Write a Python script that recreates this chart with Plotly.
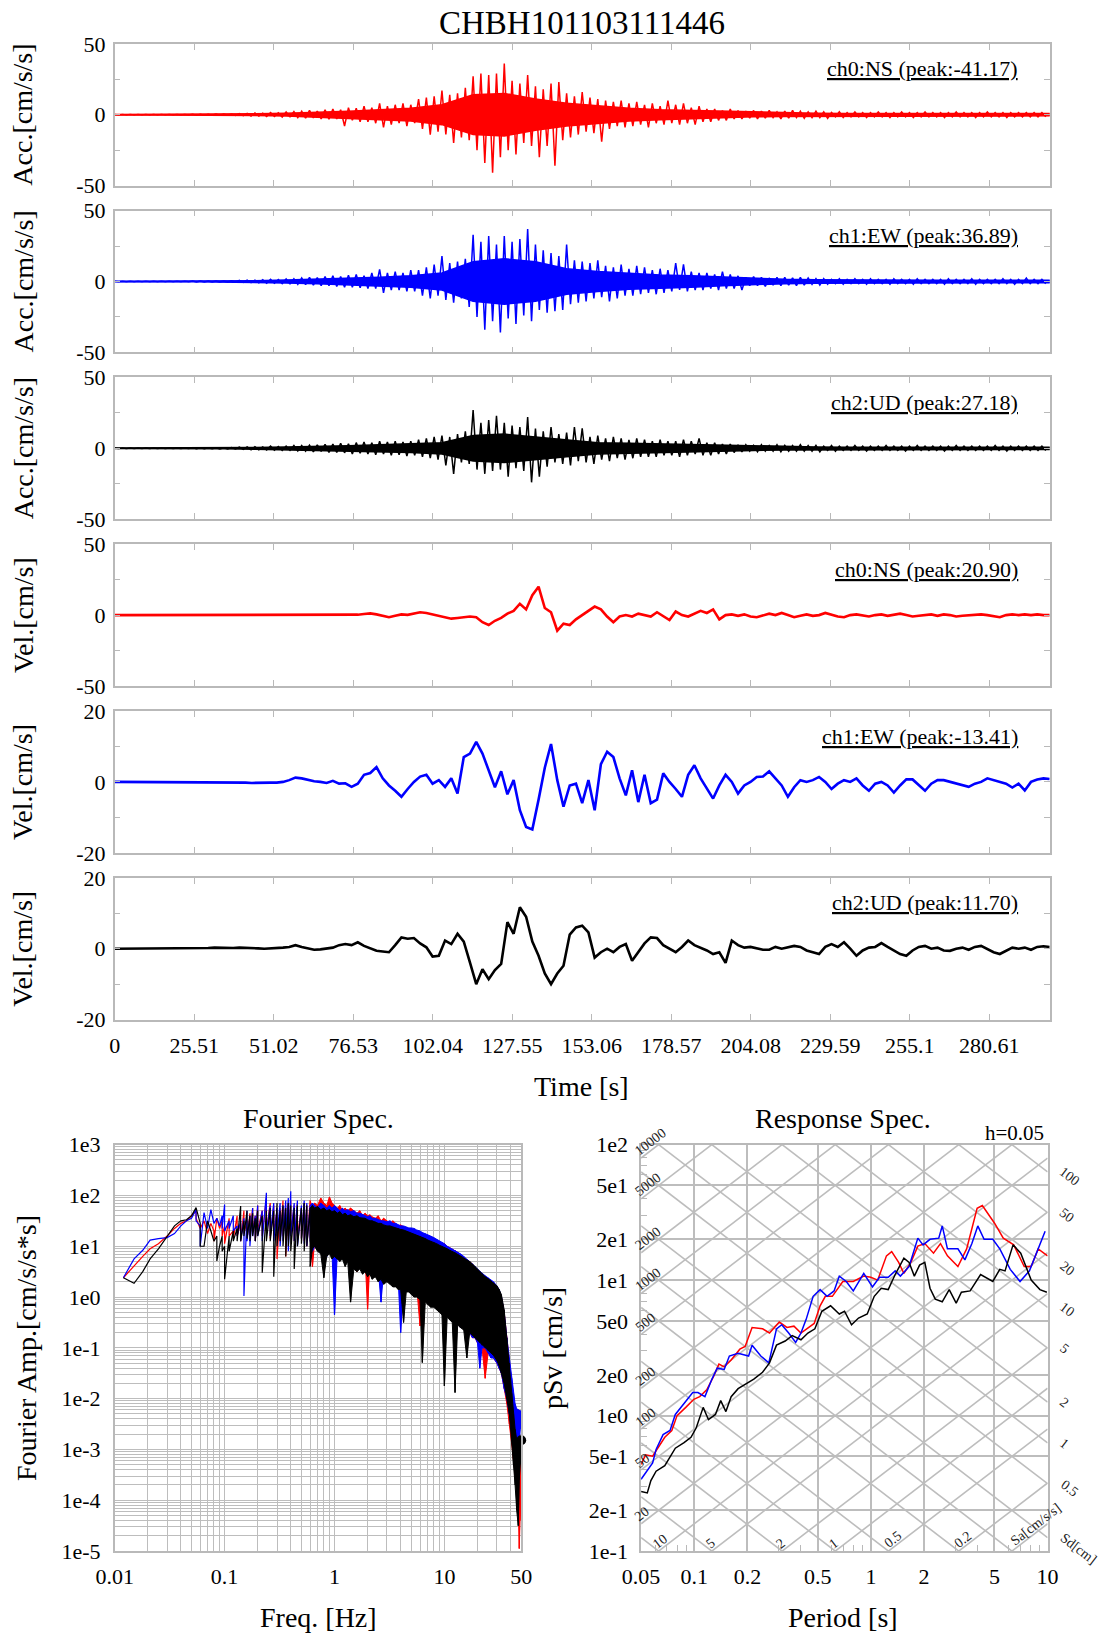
import math
import plotly.graph_objects as go

W, H = 1107, 1634
SERIF = "Liberation Serif, Times New Roman, serif"
FRAME = "#b9b9b9"
GRID = "#bdbdbd"
RED, BLUE, BLACK = "#ff0000", "#0000ff", "#000000"

# ---------------- data ----------------
title_text = "CHBH101103111446"
channel_names = ["ch0:NS", "ch1:EW", "ch2:UD"]
acc_peaks = [-41.17, 36.89, 27.18]
vel_peaks = [20.90, -13.41, 11.70]

time_ticks = [0, 25.51, 51.02, 76.53, 102.04, 127.55, 153.06, 178.57, 204.08, 229.59, 255.1, 280.61]
time_tick_labels = ["0", "25.51", "51.02", "76.53", "102.04", "127.55", "153.06",
                    "178.57", "204.08", "229.59", "255.1", "280.61"]
TIME_MAX = 300.0
ACC_BIN = 2.5    # s, width of one peak bin of the acceleration records
CORE_BIN = 10.0  # s, width of one bin of the dense-band half width
VEL_STEP = 2.0   # s, sampling of the read-off velocity records

# acceleration: upper / lower peak in each 2.5 s bin [cm/s/s]
acc_ns_hi = [0.2, 0.2, 0.2, 0.2, 0.2, 0.2, 0.2, 0.2, 0.2, 0.2, 0.3, 0.3, 0.3, 0.4, 0.4, 0.5,
             0.8, 1.0, 1.2, 1.0, 1.5, 1.3, 2.0, 2.2, 2.5, 3.0, 2.6, 3.5,
             4.0, 3.5, 5.0, 4.5, 6.0, 5.0, 8.0, 6.0, 7.0, 8.0, 7.0, 11,
             12, 13, 17, 14, 15, 19, 27, 29, 28, 29, 36, 24,
             22, 28, 20, 18, 22, 23, 15, 13, 16, 12, 11, 10,
             9, 10, 8, 9, 7, 8, 6, 10, 7, 8, 5, 6,
             4, 4, 3, 4, 3, 2.5, 3, 2.5, 3, 2, 2.5, 3,
             2.5, 2, 2.5, 2, 1.5, 2, 1.5, 2, 1.5, 1.5, 2, 1.5,
             1.5, 2, 1.5, 1.5, 2, 1.5, 1.5, 1.5, 2, 1.5, 1.5, 1.5,
             2, 1.5, 1.5, 1.5, 1.5, 1.5, 1.5, 1.5]
acc_ns_lo = [-0.2, -0.2, -0.2, -0.2, -0.2, -0.2, -0.2, -0.2, -0.2, -0.2, -0.3, -0.3, -0.3, -0.4, -0.4, -0.5,
             -0.6, -1.0, -1.0, -1.3, -1.2, -1.6, -1.5, -2.0, -2.4, -2.2, -3.0, -3.2,
             -3.0, -8.0, -4.0, -5.0, -5.0, -6.0, -9.0, -7.0, -6.0, -8.0, -6.0, -10,
             -14, -12, -14, -20, -16, -18, -25, -34, -41, -30, -25, -28,
             -20, -22, -30, -22, -36, -18, -16, -14, -12, -13, -19, -10,
             -8, -9, -8, -7, -9, -6, -7, -6, -7, -6, -7, -5,
             -5, -4, -4, -3, -3, -2.5, -3, -2.5, -2, -3, -2.5, -2,
             -2.5, -2, -2, -2.5, -1.5, -2, -1.5, -1.5, -2, -1.5, -1.5, -2,
             -1.5, -1.5, -2, -1.5, -1.5, -1.5, -2, -1.5, -1.5, -1.5, -2, -1.5,
             -1.5, -1.5, -2, -1.5, -1.5, -1.5, -1.5, -1.5]
acc_ew_hi = [0.2, 0.2, 0.2, 0.2, 0.2, 0.2, 0.2, 0.2, 0.2, 0.2, 0.3, 0.3, 0.3, 0.4, 0.4, 0.5,
             0.8, 1.0, 1.0, 1.2, 1.5, 1.4, 1.8, 2.0, 2.5, 3.0, 2.8, 3.5,
             4.0, 3.5, 4.5, 5.0, 4.0, 6.0, 8.5, 6.0, 7.0, 6.0, 8.0, 8.0,
             10, 12, 18, 13, 14, 16, 33, 28, 32, 26, 32, 28,
             30, 37, 26, 22, 20, 18, 26, 15, 14, 13, 15, 11,
             10, 12, 9, 11, 10, 8, 9, 8, 13, 12, 7, 6,
             6, 5, 7, 5, 4, 3, 3.5, 3, 2.5, 3, 3, 2.5,
             3, 2.5, 2, 2, 1.5, 2, 1.5, 2, 1.5, 2, 1.5, 1.5,
             2, 1.5, 1.5, 2, 1.5, 1.5, 1.5, 2, 1.5, 1.5, 2, 1.5,
             1.5, 1.5, 2, 1.5, 1.5, 2.5, 1.5, 1.5]
acc_ew_lo = [-0.2, -0.2, -0.2, -0.2, -0.2, -0.2, -0.2, -0.2, -0.2, -0.2, -0.3, -0.3, -0.3, -0.4, -0.4, -0.5,
             -0.7, -0.8, -1.0, -1.2, -1.2, -1.5, -1.6, -2.0, -2.2, -2.6, -3.0, -3.0,
             -3.5, -4.0, -4.0, -4.5, -5.0, -5.0, -8.0, -6.0, -6.0, -7.0, -7.0, -10,
             -12, -10, -13, -15, -12, -18, -25, -34, -28, -36, -26, -30,
             -24, -28, -20, -22, -21, -20, -16, -15, -14, -12, -11, -14,
             -12, -10, -10, -9, -8, -9, -8, -7, -6, -7, -6, -6,
             -5, -6, -5, -5, -6, -3, -3, -3.5, -2.5, -3, -2.5, -3,
             -2.5, -2, -2.5, -2, -1.5, -2, -1.5, -1.5, -2, -1.5, -1.5, -2,
             -1.5, -1.5, -2, -1.5, -1.5, -1.5, -2, -1.5, -1.5, -1.5, -2, -1.5,
             -1.5, -1.5, -1.5, -2, -1.5, -1.5, -1.5, -1.5]
acc_ud_hi = [0.2, 0.2, 0.2, 0.2, 0.2, 0.2, 0.2, 0.2, 0.2, 0.2, 0.3, 0.3, 0.3, 0.4, 0.4, 0.5,
             0.8, 1.0, 1.2, 1.0, 1.5, 1.3, 1.6, 2.0, 2.0, 2.2, 2.5, 2.8,
             3.0, 3.5, 3.2, 4.0, 4.5, 4.0, 5.0, 4.5, 5.0, 4.5, 5.0, 6.0,
             7, 8, 9, 8, 10, 12, 27, 18, 20, 23, 18, 16,
             15, 22, 14, 12, 15, 10, 11, 15, 14, 8, 9, 7,
             8, 7, 6, 7, 6, 5, 6, 5, 5, 6, 5, 7,
             4, 4, 3, 3, 2.5, 2.5, 2, 2.5, 2, 2.5, 2, 2,
             2.5, 2, 2, 1.5, 2, 1.5, 1.5, 2, 1.5, 1.5, 1.5, 2,
             1.5, 1.5, 1.5, 2, 1.5, 1.5, 1.5, 1.5, 2, 1.5, 1.5, 1.5,
             1.5, 2, 1.5, 1.5, 1.5, 1.5, 1.5, 1.5]
acc_ud_lo = [-0.2, -0.2, -0.2, -0.2, -0.2, -0.2, -0.2, -0.2, -0.2, -0.2, -0.3, -0.3, -0.3, -0.4, -0.4, -0.5,
             -0.8, -1.0, -1.0, -1.2, -1.3, -1.5, -1.5, -1.8, -2.0, -2.5, -2.2, -3.0,
             -3.0, -3.2, -4.0, -3.5, -4.0, -4.5, -4.0, -5.0, -4.5, -5.5, -5.0, -6.0,
             -7, -8, -12, -18, -10, -11, -15, -18, -16, -15, -20, -14,
             -16, -24, -20, -13, -10, -11, -12, -9, -10, -11, -8, -9,
             -7, -8, -7, -6, -6, -6, -5, -5, -6, -5, -4, -5,
             -5, -4, -4, -3, -2.5, -2, -2.5, -2, -2, -2.5, -2, -2,
             -2, -2, -2.5, -1.5, -2, -1.5, -1.5, -1.5, -2, -1.5, -1.5, -1.5,
             -1.5, -2, -1.5, -1.5, -1.5, -1.5, -2, -1.5, -1.5, -1.5, -1.5, -1.5,
             -1.5, -1.5, -2, -1.5, -1.5, -1.5, -1.5, -1.5]
# half width of the solid (densely overdrawn) part of each record, per 10 s bin [cm/s/s]
acc_ns_core = [0.2, 0.2, 0.2, 0.3, 0.6, 1.0, 1.5, 2.5, 3.5, 4.5,
               7, 14, 15, 11, 8, 6, 4.5, 3.5, 3, 2,
               1.5, 1.2, 1.0, 0.8, 0.8, 0.8, 0.8, 0.8, 0.8, 0.8]
acc_ew_core = [0.2, 0.2, 0.2, 0.3, 0.6, 1.0, 1.5, 2.2, 3, 4,
               6, 14, 16, 14, 9, 7, 5.5, 4.5, 4, 3,
               2, 1.5, 1.2, 1.0, 0.9, 0.8, 0.8, 0.8, 0.8, 0.8]
acc_ud_core = [0.2, 0.2, 0.2, 0.4, 0.6, 1.0, 1.3, 1.8, 2.5, 3,
               4, 9, 10, 8, 6, 4, 3.5, 3, 2.5, 2,
               1.5, 1.2, 1.0, 0.8, 0.8, 0.8, 0.8, 0.8, 0.8, 0.8]

# velocity, one value every 2 s from 0 to 300 s [cm/s]
vel_ns = [0] * 36 + [
    0.3, 0.2, 0.5, 0.3, 0.8, 1.2, 0.5, -0.5, -1.5, -0.5,
    0.5, 0.2, 1.0, 2.0, 1.5, 0.5, -0.5, -1.5, -2.5, -2.0,
    -1.5, -1.0, -1.5, -5.0, -7.0, -4.0, -2.0, 1.0, 3.0, 8.0,
    4.0, 14, 20, 5, 2, -11, -6, -7, -3, 0,
    3, 6, 4, -1, -5, -1, 0, -1, 1, 0,
    -1, 2, -0.5, -3.5, 2.5, 0, -1, 1, 3, 1.5,
    4, -3, 0, 0.5, -0.5,
    0.5, -1, -1.5, 0, 1, 0, 1.5, 0, -1.5, -0.5,
    0.5, -0.5, 0, 1.5, 0, -1, -1.5, 0, 0.5, 0,
    -1, 0, 0.5, -0.5, 0, 1, 0, -1, -0.5, 0,
    0.5, -0.5, 0.5, 0, -1, -0.5, 0, 0.5, 0.5, 0,
    -0.5, -1.5, 0, 0.5, 0, 0.5, 0, 0.5, 0, 0]
vel_ew = [0] * 17 + [
    -0.2, -0.2, -0.2, 0, -0.2, -0.3, -0.2, -0.3, -0.2, -0.2,
    0, 0.5, 1.2, 1.0, 0.5, 0.2, 0, -0.3, 0.3, -0.5,
    -0.4, -1.4, -0.5, 2, 2.5, 4.2, 1, -1, -2.5, -4.2,
    -2, 0, 1.5, 2, -0.5, 0.5, -1.4, 1, -3.3, 7,
    8, 11.3, 8, 3, -1.5, 3, -3.5, 0.5, -8, -12.7,
    -13.4, -5, 4, 10.7, 0.5, -7, -1, -0.5, -6, 0.5,
    -8, 5, 8.5, 7, 1, -3.8, 3.3, -5.7, 2, -6,
    -5, 2.4, 0, -2, -4.2, 2, 4.7, 1, -2, -4.7,
    -1, 2, 0, -3.3, -1, 0, 1.4, 1.5, 3, 1,
    -1, -4.2, -1.5, 0.5, 0, 0.5, 1.4, 0, -2, -0.5,
    0.5, 0, 1, -1, -2.5, -0.5, 0, -1, -3, -1,
    0.7, 0.7, -1, -2.5, -0.5, 0.5, 0.5, 0, -0.5, -1,
    -1.4, -0.5, 0, 1, 0.5, 0, -0.5, -1.6, -0.5, -2.4,
    0, 0.7, 1, 0.8]
vel_ud = [0] * 15 + [
    0.2, 0.3, 0.2, 0.3, 0.2, 0.3, 0.3, 0.2, 0.1, 0,
    0.1, 0, 0.3, 0.5, 1, 0.5, 0, -0.3, -0.2, 0,
    0.3, 1, 1.3, 1, 1.8, 0.8, 0, -0.6, -0.8, -1,
    1, 3.2, 2.8, 3, 1.5, 0.4, -2.2, -2, 2.3, 1.3,
    4.2, 2, -3.9, -10, -5.8, -8.6, -6, -4.3, 7.5, 4.2,
    11.7, 9, 2, -2, -7, -10, -7, -4.8, 4, 6,
    6.5, 4.6, -2.5, -1, 0, -1, 0.5, 1.3, -3.4, -1,
    1.5, 3.2, 3, 1, 0, -1, 0.5, 2.3, 1, 0.3,
    -0.5, -1.5, -1, -4, 2.3, 1, 0.3, 0.5, 0, -0.3,
    -0.3, 0.5, 0, 0.3, 0.8, 0.5, -0.5, -1, -1.5, 0.5,
    1.3, 0.5, 1.8, 0, -2, -0.5, 0.3, 0.5, 1.6, 0.5,
    -0.5, -1.5, -2, -0.5, 0.5, 0.8, 0, 0.3, -0.5, -0.6,
    0, 0.3, -0.3, 0.5, 0.8, 0, -1, -1.5, -0.5, 0.3,
    0, 0.3, -0.3, 0.5, 0.7, 0.5]

# Fourier spectra: frequency nodes [Hz]; log10 of upper / lower amplitude at each node
fourier_freq = [0.012, 0.015, 0.018, 0.021, 0.025, 0.03, 0.035, 0.04, 0.045, 0.05,
                0.055, 0.06, 0.065, 0.07, 0.075, 0.08, 0.085, 0.09, 0.095, 0.1,
                0.11, 0.12, 0.13, 0.14, 0.15, 0.16, 0.17, 0.18, 0.19, 0.2,
                0.22, 0.24, 0.26, 0.28, 0.3, 0.32, 0.34, 0.36, 0.38, 0.4,
                0.43, 0.46, 0.5, 0.53, 0.56, 0.6, 0.63, 0.66, 0.7, 0.75,
                0.8, 0.85, 0.9, 0.95, 1.0, 1.06, 1.12, 1.18, 1.25, 1.32,
                1.4, 1.5, 1.6, 1.7, 1.8, 1.9, 2.0, 2.1, 2.2, 2.35,
                2.5, 2.65, 2.8, 3.0, 3.2, 3.4, 3.6, 3.8, 4.0, 4.25,
                4.5, 4.75, 5.0, 5.3, 5.6, 6.0, 6.3, 6.7, 7.1, 7.5,
                8.0, 8.5, 9.0, 9.5, 10, 10.6, 11.2, 11.8, 12.5, 13.2,
                14, 15, 16, 17, 18, 19, 20, 21, 22, 23.5,
                25, 26.5, 28, 30, 31.5, 33, 35, 37, 39, 41,
                42.5, 44, 45.5, 47, 48, 49, 50]
FOURIER_SOLID_FROM = 0.6  # Hz: above this the drawn spectrum is a solid band
fs_ns_hi = [0.38, 0.62, 0.80, 0.95, 1.05, 1.20, 1.35, 1.45, 1.50, 1.60,
            1.70, 1.35, 1.50, 1.25, 1.45, 1.30, 1.55, 1.35, 1.50, 1.40,
            1.55, 1.30, 1.60, 1.45, 1.70, 1.50, 1.65, 1.75, 1.60, 1.80,
            1.70, 1.95, 1.85, 1.80, 1.70, 1.75, 1.90, 1.80, 1.85, 1.90,
            1.80, 1.85, 1.75, 1.85, 1.80, 1.90, 1.75, 1.85, 1.80, 1.95,
            1.85, 1.80, 1.97, 1.85, 1.80, 1.75, 1.80, 1.70, 1.75, 1.70,
            1.75, 1.70, 1.65, 1.70, 1.60, 1.65, 1.60, 1.62, 1.58, 1.55,
            1.60, 1.50, 1.55, 1.50, 1.45, 1.50, 1.45, 1.40, 1.42, 1.38,
            1.35, 1.35, 1.30, 1.28, 1.25, 1.22, 1.20, 1.18, 1.15, 1.12,
            1.10, 1.08, 1.05, 1.05, 1.05, 1.00, 0.97, 0.94, 0.92, 0.88,
            0.83, 0.78, 0.74, 0.70, 0.65, 0.58, 0.53, 0.48, 0.45, 0.40,
            0.35, 0.30, 0.27, 0.20, 0.12, 0.00, -0.30, -0.80, -1.30, -1.80,
            -2.10, -2.40, -2.70, -2.90, -3.00, -3.10, -3.20]
fs_ns_lo = [0.38, 0.62, 0.80, 0.95, 1.05, 1.20, 1.35, 1.45, 1.50, 1.60,
            1.55, 1.35, 1.50, 1.25, 1.45, 1.10, 1.55, 1.35, 1.20, 1.05,
            1.20, 1.15, 1.20, 1.10, 1.25, 1.15, 1.20, 1.30, 1.10, 1.30,
            1.20, 1.30, 1.15, 1.25, 0.75, 1.10, 1.20, 0.80, 1.20, 1.25,
            1.10, 1.20, 1.15, 1.10, 1.00, 1.15, 0.60, 1.10, 1.05, 1.00,
            1.10, 0.90, 1.00, 0.95, 0.90, 0.85, 0.80, 0.85, 0.80, 0.70,
            0.80, 0.75, 0.50, 0.75, 0.70, 0.75, -0.24, 0.70, 0.65, 0.60,
            0.65, 0.50, 0.55, 0.50, 0.45, 0.40, 0.40, 0.35, 0.30, 0.35,
            0.30, 0.25, 0.25, 0.20, 0.20, -0.57, 0.10, 0.10, 0.00, 0.00,
            -0.10, -0.10, -0.20, -0.20, -0.30, -0.30, -0.40, -0.40, -0.50, -0.50,
            -0.60, -0.60, -0.70, -0.70, -0.80, -0.80, -0.90, -0.90, -1.00, -1.60,
            -1.10, -1.15, -1.20, -1.30, -1.40, -1.50, -1.80, -2.10, -2.50, -2.90,
            -3.20, -3.50, -3.70, -4.00, -4.95, -4.40, -3.50]
fs_ew_hi = [0.38, 0.75, 0.92, 1.12, 1.15, 1.17, 1.25, 1.40, 1.50, 1.55,
            1.72, 1.40, 1.66, 1.35, 1.72, 1.45, 1.55, 1.40, 1.60, 1.82,
            1.50, 1.60, 1.40, 1.50, 1.55, 1.70, 1.60, 1.75, 1.60, 1.80,
            1.70, 2.05, 1.80, 1.85, 1.75, 1.85, 1.80, 1.90, 1.95, 2.08,
            1.85, 1.90, 1.80, 1.90, 1.85, 1.80, 1.85, 1.80, 1.75, 1.85,
            1.80, 1.75, 1.80, 1.75, 1.80, 1.75, 1.70, 1.75, 1.70, 1.72,
            1.68, 1.70, 1.65, 1.65, 1.62, 1.60, 1.58, 1.60, 1.55, 1.55,
            1.52, 1.50, 1.50, 1.48, 1.50, 1.45, 1.45, 1.42, 1.40, 1.40,
            1.38, 1.36, 1.36, 1.35, 1.32, 1.30, 1.27, 1.25, 1.22, 1.20,
            1.17, 1.14, 1.10, 1.07, 1.05, 1.00, 0.97, 0.95, 0.92, 0.88,
            0.85, 0.80, 0.75, 0.70, 0.66, 0.60, 0.55, 0.50, 0.47, 0.42,
            0.38, 0.33, 0.30, 0.22, 0.15, 0.02, -0.30, -0.80, -1.20, -1.60,
            -1.90, -2.10, -2.20, -2.22, -2.24, -2.24, -2.24]
fs_ew_lo = [0.38, 0.75, 0.92, 1.12, 1.15, 1.17, 1.25, 1.40, 1.50, 1.55,
            1.50, 1.00, 1.66, 1.35, 1.72, 1.45, 1.55, 1.40, 1.35, 1.30,
            1.35, 1.30, 1.20, 1.10, 0.02, 1.10, 1.00, 1.20, 1.10, 1.20,
            1.10, 1.30, 1.20, 1.10, 1.20, 1.00, 1.10, 1.20, 0.90, 1.20,
            1.10, 1.00, 1.15, 1.05, 1.00, 1.10, 0.90, 1.00, 0.95, 1.00,
            0.90, 0.80, 0.90, 0.85, -0.35, 0.85, 0.80, 0.80, 0.75, 0.70,
            0.75, 0.70, 0.65, 0.70, 0.60, 0.65, 0.60, 0.55, 0.60, 0.50,
            0.55, -0.10, 0.50, 0.45, 0.40, 0.40, 0.35, 0.35, -0.70, 0.30,
            0.30, 0.25, 0.25, 0.20, 0.15, 0.15, 0.10, 0.10, 0.00, 0.00,
            -0.10, -0.10, -0.20, -0.20, -0.30, -0.30, -0.40, -0.40, -0.50, -0.50,
            -0.60, -0.60, -0.70, -0.70, -0.80, -0.80, -0.90, -1.40, -1.00, -1.00,
            -1.10, -1.20, -1.20, -1.30, -1.40, -1.50, -1.80, -2.00, -2.30, -2.60,
            -2.90, -3.10, -3.20, -3.00, -2.90, -2.60, -2.40]
fs_ud_hi = [0.38, 0.27, 0.50, 0.75, 0.95, 1.20, 1.40, 1.50, 1.52, 1.60,
            1.76, 1.45, 1.00, 1.50, 1.30, 1.10, 1.20, 1.00, 1.20, 1.00,
            1.20, 1.30, 1.35, 1.79, 1.50, 1.70, 1.60, 1.65, 1.55, 1.70,
            1.60, 1.70, 1.75, 1.70, 1.85, 1.70, 1.80, 1.75, 1.85, 1.80,
            1.75, 1.80, 1.75, 1.85, 1.80, 1.75, 1.80, 1.75, 1.78, 1.72,
            1.75, 1.70, 1.72, 1.68, 1.70, 1.65, 1.68, 1.62, 1.65, 1.60,
            1.62, 1.58, 1.60, 1.56, 1.55, 1.55, 1.52, 1.50, 1.50, 1.48,
            1.45, 1.45, 1.42, 1.40, 1.40, 1.38, 1.36, 1.35, 1.33, 1.32,
            1.30, 1.28, 1.26, 1.24, 1.22, 1.20, 1.18, 1.15, 1.12, 1.10,
            1.08, 1.05, 1.02, 1.00, 0.98, 0.95, 0.92, 0.90, 0.87, 0.84,
            0.80, 0.77, 0.73, 0.70, 0.65, 0.60, 0.55, 0.50, 0.45, 0.40,
            0.36, 0.32, 0.28, 0.22, 0.15, 0.05, -0.25, -0.80, -1.30, -1.90,
            -2.30, -2.60, -2.80, -2.85, -2.85, -2.85, -2.82]
fs_ud_lo = [0.38, 0.27, 0.50, 0.75, 0.95, 1.20, 1.40, 1.50, 1.52, 1.60,
            1.76, 1.00, 1.00, 1.50, 1.30, 1.10, 0.71, 1.00, 0.90, 0.35,
            0.90, 1.10, 1.10, 1.10, 1.20, 1.15, 1.10, 1.20, 1.10, 1.20,
            0.48, 1.10, 1.10, 0.40, 1.00, 1.10, 1.00, 0.80, 1.00, 0.90,
            0.55, 1.00, 1.05, 0.90, 1.00, 0.60, 0.95, 1.00, 0.90, 0.85,
            0.38, 0.80, 0.85, 0.75, 0.80, 0.75, 0.70, 0.75, 0.60, 0.70,
            -0.10, 0.55, 0.50, 0.55, 0.45, 0.50, 0.40, 0.45, 0.35, 0.40,
            0.30, 0.35, 0.25, 0.30, 0.25, 0.20, 0.20, 0.15, 0.15, -0.50,
            0.10, 0.10, 0.05, 0.00, 0.00, -0.05, -1.29, -0.10, -0.15, -0.20,
            -0.20, -0.25, -0.30, -0.35, -1.75, -0.40, -0.45, -0.50, -1.88, -0.55,
            -0.60, -0.65, -1.20, -0.70, -0.75, -0.80, -0.85, -0.90, -0.95, -1.00,
            -1.05, -1.10, -1.15, -1.25, -1.35, -1.50, -1.70, -2.00, -2.30, -2.80,
            -3.30, -3.70, -4.20, -4.50, -3.60, -3.30, -3.00]

# response spectra (h=0.05): period [s] and pSv [cm/s]
damping = 0.05
rs_period_ns = [0.05, 0.053, 0.0581, 0.0608, 0.0681, 0.0746, 0.0799, 0.0895, 0.0994, 0.1073,
                0.1176, 0.1288, 0.1379, 0.1477, 0.1617, 0.1811, 0.194, 0.2124, 0.2435, 0.2666,
                0.3028, 0.3346, 0.3666, 0.4016, 0.4398, 0.4773, 0.5155, 0.5519, 0.6045, 0.6472,
                0.6929, 0.7945, 0.9106, 0.9974, 1.0925, 1.2242, 1.3106, 1.4352, 1.5365, 1.6825,
                1.8427, 2.0182, 2.2604, 2.4757, 2.7109, 3.1071, 3.4815, 3.9904, 4.2722, 5.0092,
                5.6128, 6.4313, 7.3733, 8.075, 8.8432, 10.0]
rs_psv_ns = [0.437, 0.513, 0.501, 0.55, 0.692, 0.776, 1.0, 1.15, 1.32, 1.38,
             1.55, 1.95, 2.40, 2.29, 2.57, 3.09, 3.24, 4.47, 4.37, 4.07,
             4.90, 4.47, 4.57, 4.07, 4.47, 4.79, 6.46, 7.59, 7.59, 8.71,
             9.77, 9.77, 10.7, 10.5, 10.0, 15.1, 16.2, 13.5, 11.2, 13.5,
             17.8, 18.6, 15.8, 18.6, 15.1, 12.6, 17.0, 33.9, 35.5, 26.3,
             20.4, 18.2, 12.6, 12.6, 17.0, 15.1]
rs_period_ew = [0.05, 0.0542, 0.0581, 0.0608, 0.0666, 0.0729, 0.0781, 0.0875, 0.098, 0.1049,
                0.1149, 0.1259, 0.1348, 0.1477, 0.158, 0.1771, 0.203, 0.2124, 0.238, 0.2642,
                0.292, 0.3125, 0.3423, 0.375, 0.4016, 0.4299, 0.4708, 0.5155, 0.5646, 0.6184,
                0.6621, 0.7253, 0.7945, 0.9106, 1.0204, 1.1177, 1.2524, 1.3715, 1.4683, 1.6445,
                1.8427, 1.9727, 2.16, 2.42, 2.5328, 2.7109, 3.1071, 3.4031, 3.7274, 4.0266,
                4.3706, 4.896, 5.3627, 6.1468, 6.9823, 7.8931, 8.8432, 9.6826]
rs_psv_ew = [0.339, 0.389, 0.447, 0.562, 0.724, 0.776, 1.02, 1.23, 1.48, 1.48,
             1.38, 1.86, 2.24, 2.19, 2.75, 2.88, 2.75, 3.31, 2.75, 2.45,
             4.37, 4.68, 4.07, 3.47, 4.07, 5.13, 7.59, 8.51, 7.59, 8.32,
             10.7, 9.77, 8.32, 11.2, 8.91, 10.5, 10.5, 11.7, 10.7, 12.6,
             20.4, 18.2, 20.0, 20.4, 25.1, 17.0, 17.0, 14.1, 18.6, 25.1,
             20.0, 20.0, 17.0, 12.0, 9.77, 11.7, 17.0, 22.9]
rs_period_ud = [0.05, 0.0542, 0.0568, 0.0608, 0.0681, 0.0781, 0.0875, 0.0958, 0.1026, 0.1123,
                0.1203, 0.1318, 0.1411, 0.151, 0.1617, 0.1771, 0.194, 0.2173, 0.2435, 0.2666,
                0.292, 0.327, 0.3583, 0.4016, 0.4398, 0.4816, 0.5273, 0.5909, 0.6621, 0.7089,
                0.7766, 0.8506, 0.953, 1.044, 1.1435, 1.2524, 1.3715, 1.5365, 1.6445, 1.7607,
                1.8851, 2.0182, 2.16, 2.3125, 2.5328, 2.7733, 3.037, 3.2515, 3.6433, 4.176,
                4.896, 5.3627, 5.742, 6.3742, 7.0463, 8.075, 9.0467, 9.9057]
rs_psv_ud = [0.275, 0.269, 0.331, 0.389, 0.427, 0.575, 0.631, 0.692, 0.813, 1.15,
             0.933, 1.02, 1.29, 1.07, 1.38, 1.58, 1.70, 1.86, 2.09, 2.45,
             3.31, 3.55, 3.89, 3.63, 4.07, 4.37, 5.89, 6.46, 5.62, 5.89,
             4.68, 5.25, 5.62, 7.59, 8.71, 8.51, 11.0, 14.5, 13.5, 10.7,
             12.9, 13.5, 8.71, 7.24, 6.92, 8.51, 6.76, 8.13, 8.32, 11.0,
             9.77, 12.0, 11.7, 18.2, 15.8, 10.0, 8.51, 8.13]

# tripartite grid values
sa_lines = [0.1, 0.2, 0.5, 1, 2, 5, 10, 20, 50, 100, 200, 500, 1000, 2000, 5000, 10000]
sd_lines = [0.001, 0.002, 0.005, 0.01, 0.02, 0.05, 0.1, 0.2, 0.5, 1, 2, 5, 10, 20, 50, 100]
sa_left_labels = [20, 50, 100, 200, 500, 1000, 2000, 5000, 10000]
sa_bottom_labels = [10, 5, 2, 1, 0.5, 0.2]
sd_right_labels = [100, 50, 20, 10, 5, 2, 1, 0.5]

fourier_ticks = [0.01, 0.1, 1, 10, 50]
fourier_tick_text = ["0.01", "0.1", "1", "10", "50"]
fourier_y_ticks = [1e-5, 1e-4, 1e-3, 1e-2, 1e-1, 1e0, 1e1, 1e2, 1e3]
fourier_y_text = ["1e-5", "1e-4", "1e-3", "1e-2", "1e-1", "1e0", "1e1", "1e2", "1e3"]
rs_x_ticks = [0.05, 0.1, 0.2, 0.5, 1, 2, 5, 10]
rs_x_text = ["0.05", "0.1", "0.2", "0.5", "1", "2", "5", "10"]
rs_y_ticks = [0.1, 0.2, 0.5, 1, 2, 5, 10, 20, 50, 100]
rs_y_text = ["1e-1", "2e-1", "5e-1", "1e0", "2e0", "5e0", "1e1", "2e1", "5e1", "1e2"]

# ---------------- geometry (pixels) ----------------
PX_L, PX_R = 114.7, 1049.7
TOP0, PITCH, PH = 43.8, 166.8, 141.8
FOU = (114.7, 521.2, 1144.6, 1551.1)
RES = (641.1, 1047.6, 1144.6, 1551.1)


def fx(px):
    return px / W


def fy(py):
    return 1 - py / H


def decades(lo, hi):
    out = []
    for e in range(lo, hi + 1):
        for m in range(2, 10):
            out.append(m * 10.0 ** e)
    return out


fig = go.Figure()
layout = dict(width=W, height=H, margin=dict(l=0, r=0, t=0, b=0, autoexpand=False),
              paper_bgcolor="white", plot_bgcolor="white", showlegend=False,
              font=dict(family=SERIF, color="black"))
annotations = []

tick_font = dict(family=SERIF, size=22, color="black")

panels = [
    ("acc", (acc_ns_hi, acc_ns_lo, acc_ns_core), RED, "Acc.[cm/s/s]", 50, channel_names[0], acc_peaks[0]),
    ("acc", (acc_ew_hi, acc_ew_lo, acc_ew_core), BLUE, "Acc.[cm/s/s]", 50, channel_names[1], acc_peaks[1]),
    ("acc", (acc_ud_hi, acc_ud_lo, acc_ud_core), BLACK, "Acc.[cm/s/s]", 50, channel_names[2], acc_peaks[2]),
    ("vel", vel_ns, RED, "Vel.[cm/s]", 50, channel_names[0], vel_peaks[0]),
    ("vel", vel_ew, BLUE, "Vel.[cm/s]", 20, channel_names[1], vel_peaks[1]),
    ("vel", vel_ud, BLACK, "Vel.[cm/s]", 20, channel_names[2], vel_peaks[2]),
]

for i, (kind, data, color, ylab, lim, cname, peak) in enumerate(panels):
    n = i + 1
    top = TOP0 + PITCH * i
    bot = top + PH
    if kind == "acc":
        hi, lo, core = data
        # solid core of the record
        tc = [CORE_BIN * k + CORE_BIN / 2 for k in range(len(core))]
        cx = [0] + tc + [TIME_MAX] + [TIME_MAX] + tc[::-1] + [0]
        cy = [core[0]] + list(core) + [core[-1]] + [-core[-1]] + [-v for v in core[::-1]] + [-core[0]]
        fig.add_trace(go.Scatter(x=cx, y=cy, mode="lines", fill="toself", fillcolor=color,
                                 line=dict(color=color, width=1.5),
                                 xaxis=f"x{n}", yaxis=f"y{n}", hoverinfo="skip"))
        # individual peaks, alternating up / down inside every bin
        xs, ys = [], []
        for k, (a, b) in enumerate(zip(hi, lo)):
            t = ACC_BIN * k
            xs += [t, t + ACC_BIN / 2]
            ys += [a, b]
        fig.add_trace(go.Scatter(x=xs, y=ys, mode="lines", line=dict(color=color, width=1.5),
                                 xaxis=f"x{n}", yaxis=f"y{n}", hoverinfo="skip"))
    else:
        ys = list(data)
        xs = [VEL_STEP * k for k in range(len(ys))]
        fig.add_trace(go.Scatter(x=xs, y=ys, mode="lines", line=dict(color=color, width=2.6),
                                 xaxis=f"x{n}", yaxis=f"y{n}", hoverinfo="skip"))
    key = "" if n == 1 else str(n)
    layout[f"xaxis{key}"] = dict(
        domain=[fx(PX_L), fx(PX_R)], range=[0, TIME_MAX], anchor=f"y{n}", automargin=False,
        tickmode="array", tickvals=time_ticks, ticktext=time_tick_labels,
        showticklabels=(n == 6), tickfont=tick_font, ticklabelstandoff=5,
        ticks="inside", ticklen=6, tickcolor=FRAME, tickwidth=1.2,
        showline=True, linecolor=FRAME, linewidth=1.5, mirror="ticks",
        showgrid=False, zeroline=False)
    layout[f"yaxis{key}"] = dict(
        domain=[fy(bot), fy(top)], range=[-lim, lim], anchor=f"x{n}", automargin=False,
        tickmode="array", tickvals=[-lim, -lim / 2, 0, lim / 2, lim],
        ticktext=[f"{-lim}", "", "0", "", f"{lim}"], tickfont=tick_font, ticklabelstandoff=3,
        ticks="inside", ticklen=6, tickcolor=FRAME, tickwidth=1.2,
        showline=True, linecolor=FRAME, linewidth=1.5, mirror="ticks",
        showgrid=False, zeroline=False)
    annotations.append(dict(text=ylab, x=fx(23), y=fy((top + bot) / 2), xref="paper", yref="paper",
                            textangle=-90, showarrow=False, font=dict(family=SERIF, size=28),
                            xanchor="center", yanchor="middle"))
    annotations.append(dict(text=f"<u>{cname} (peak:{peak:.2f})</u>", x=fx(1019.5), y=fy(top + 25),
                            xref="paper", yref="paper", showarrow=False,
                            font=dict(family=SERIF, size=22), xanchor="right", yanchor="middle"))

# ---------------- Fourier spectrum ----------------
for hi, lo, color in [(fs_ns_hi, fs_ns_lo, RED), (fs_ew_hi, fs_ew_lo, BLUE), (fs_ud_hi, fs_ud_lo, BLACK)]:
    # dense part: solid band between the upper and lower amplitude at each node
    idx = [k for k, f in enumerate(fourier_freq) if f >= FOURIER_SOLID_FROM]
    bx = [fourier_freq[k] for k in idx] + [fourier_freq[k] for k in idx[::-1]]
    by = [10 ** hi[k] for k in idx] + [10 ** lo[k] for k in idx[::-1]]
    fig.add_trace(go.Scatter(x=bx, y=by, mode="lines", fill="toself", fillcolor=color,
                             line=dict(color=color, width=1.0),
                             xaxis="x7", yaxis="y7", hoverinfo="skip"))
    xs, ys = [], []
    for f, a, b in zip(fourier_freq, hi, lo):
        xs += [f, f]
        ys += [10 ** a, 10 ** b]
    fig.add_trace(go.Scatter(x=xs, y=ys, mode="lines", line=dict(color=color, width=1.2),
                             xaxis="x7", yaxis="y7", hoverinfo="skip"))
fig.add_trace(go.Scatter(x=[fourier_freq[-1]], y=[10 ** fs_ud_hi[-1]], mode="markers",
                         marker=dict(color=BLACK, size=10), xaxis="x7", yaxis="y7",
                         hoverinfo="skip", cliponaxis=False))

layout["xaxis7"] = dict(domain=[fx(FOU[0]), fx(FOU[1])], type="log", automargin=False,
                        range=[math.log10(0.01), math.log10(50)], anchor="y7",
                        tickmode="array", tickvals=fourier_ticks, ticktext=fourier_tick_text,
                        tickfont=tick_font, ticks="", ticklabelstandoff=5,
                        showgrid=True, gridcolor=GRID, gridwidth=1.3,
                        minor=dict(tickvals=decades(-2, 0) + [20, 30, 40], showgrid=True,
                                   gridcolor=GRID, gridwidth=1.3, ticks=""),
                        showline=True, linecolor=FRAME, linewidth=1.5, mirror=True, zeroline=False)
layout["yaxis7"] = dict(domain=[fy(FOU[3]), fy(FOU[2])], type="log", range=[-5, 3], anchor="x7",
                        automargin=False,
                        tickmode="array", tickvals=fourier_y_ticks, ticktext=fourier_y_text,
                        tickfont=tick_font, ticks="", ticklabelstandoff=8,
                        showgrid=True, gridcolor=GRID, gridwidth=1.3,
                        minor=dict(tickvals=decades(-5, 2), showgrid=True, gridcolor=GRID,
                                   gridwidth=1.3, ticks=""),
                        showline=True, linecolor=FRAME, linewidth=1.5, mirror=True, zeroline=False)

# ---------------- Response spectrum ----------------
T0, T1 = 0.05, 10.0
for sa in sa_lines:
    fig.add_trace(go.Scatter(x=[T0, T1], y=[sa * T0 / (2 * math.pi), sa * T1 / (2 * math.pi)],
                             mode="lines", line=dict(color=GRID, width=1.6),
                             xaxis="x8", yaxis="y8", hoverinfo="skip"))
for sd in sd_lines:
    fig.add_trace(go.Scatter(x=[T0, T1], y=[2 * math.pi * sd / T0, 2 * math.pi * sd / T1],
                             mode="lines", line=dict(color=GRID, width=1.6),
                             xaxis="x8", yaxis="y8", hoverinfo="skip"))
for per, psv, color in [(rs_period_ns, rs_psv_ns, RED), (rs_period_ew, rs_psv_ew, BLUE),
                        (rs_period_ud, rs_psv_ud, BLACK)]:
    fig.add_trace(go.Scatter(x=per, y=psv, mode="lines", line=dict(color=color, width=1.5),
                             xaxis="x8", yaxis="y8", hoverinfo="skip"))

layout["xaxis8"] = dict(domain=[fx(RES[0]), fx(RES[1])], type="log", automargin=False,
                        range=[math.log10(T0), math.log10(T1)], anchor="y8",
                        tickmode="array", tickvals=rs_x_ticks, ticktext=rs_x_text,
                        tickfont=tick_font, ticks="", ticklabelstandoff=5,
                        showgrid=True, gridcolor=GRID, gridwidth=1.6,
                        minor=dict(tickvals=[0.06, 0.07, 0.08, 0.09, 0.3, 0.4, 0.6, 0.7, 0.8, 0.9,
                                             3, 4, 6, 7, 8, 9],
                                   ticks="inside", ticklen=6, tickcolor=FRAME, showgrid=False),
                        showline=True, linecolor=FRAME, linewidth=1.6, mirror=True, zeroline=False)
layout["yaxis8"] = dict(domain=[fy(RES[3]), fy(RES[2])], type="log", range=[-1, 2], anchor="x8",
                        automargin=False,
                        tickmode="array", tickvals=rs_y_ticks, ticktext=rs_y_text,
                        tickfont=tick_font, ticks="", ticklabelstandoff=7,
                        showgrid=True, gridcolor=GRID, gridwidth=1.6,
                        minor=dict(tickvals=[0.3, 0.4, 0.6, 0.7, 0.8, 0.9, 3, 4, 6, 7, 8, 9,
                                             30, 40, 60, 70, 80, 90],
                                   ticks="inside", ticklen=6, tickcolor=FRAME, showgrid=False),
                        showline=True, linecolor=FRAME, linewidth=1.6, mirror=True, zeroline=False)

# tripartite labels
xpd = (RES[1] - RES[0]) / (math.log10(T1) - math.log10(T0))
ypd = (RES[3] - RES[2]) / 3.0
ang = math.atan2(ypd, xpd)
c, s = math.cos(ang), math.sin(ang)
lab_fs = 14
lab_font = dict(family=SERIF, size=lab_fs, color="#222222")


def fmt(v):
    return f"{v:g}"


def left_label(text, T, p):
    L = 0.5 * lab_fs * len(text)
    annotations.append(dict(text=text, x=math.log10(T), y=math.log10(p), xref="x8", yref="y8",
                            showarrow=False, textangle=-math.degrees(ang), font=lab_font,
                            xshift=L / 2 * c - 7 * s, yshift=L / 2 * s + 7 * c,
                            xanchor="center", yanchor="middle"))


for sa in sa_left_labels:
    left_label(fmt(sa), T0, sa * T0 / (2 * math.pi))
for sa in sa_bottom_labels:
    left_label(fmt(sa), 2 * math.pi * 0.1 / sa, 0.1)
left_label("Sa[cm/s/s]", 2 * math.pi * 0.1 / 0.1, 0.1)


def right_label(text, p):
    L = 0.5 * lab_fs * len(text)
    annotations.append(dict(text=text, x=math.log10(T1), y=math.log10(p), xref="x8", yref="y8",
                            showarrow=False, textangle=math.degrees(ang), font=lab_font,
                            xshift=14 + L / 2 * c, yshift=2 - L / 2 * s,
                            xanchor="center", yanchor="middle"))


for sd in sd_right_labels:
    right_label(fmt(sd), 2 * math.pi * sd / T1)
right_label("Sd[cm]", 2 * math.pi * 0.2 / T1)

# titles
big = dict(family=SERIF, size=28, color="black")
annotations += [
    dict(text=title_text, x=fx(582), y=fy(23), xref="paper", yref="paper", showarrow=False,
         font=dict(family=SERIF, size=33, color="black"), xanchor="center", yanchor="middle"),
    dict(text="Time [s]", x=fx(581), y=fy(1086), xref="paper", yref="paper", showarrow=False,
         font=big, xanchor="center", yanchor="middle"),
    dict(text="Fourier Spec.", x=fx(318), y=fy(1118.5), xref="paper", yref="paper", showarrow=False,
         font=big, xanchor="center", yanchor="middle"),
    dict(text="Response Spec.", x=fx(843), y=fy(1118.5), xref="paper", yref="paper", showarrow=False,
         font=big, xanchor="center", yanchor="middle"),
    dict(text=f"h={damping:.2f}", x=fx(1046), y=fy(1133), xref="paper", yref="paper", showarrow=False,
         font=dict(family=SERIF, size=21, color="black"), xanchor="right", yanchor="middle"),
    dict(text="Freq. [Hz]", x=fx(318), y=fy(1617), xref="paper", yref="paper", showarrow=False,
         font=big, xanchor="center", yanchor="middle"),
    dict(text="Period [s]", x=fx(843), y=fy(1617), xref="paper", yref="paper", showarrow=False,
         font=big, xanchor="center", yanchor="middle"),
    dict(text="Fourier Amp.[cm/s/s*s]", x=fx(26), y=fy(1348), xref="paper", yref="paper",
         showarrow=False, textangle=-90, font=big, xanchor="center", yanchor="middle"),
    dict(text="pSv [cm/s]", x=fx(552), y=fy(1348), xref="paper", yref="paper",
         showarrow=False, textangle=-90, font=big, xanchor="center", yanchor="middle"),
]
layout["annotations"] = annotations
fig.update_layout(**layout)
# the page's default 8px body margin would push the 1107x1634 figure off its frame
fig.write_html("out.html", config={"displayModeBar": False},
               post_script="document.body.style.margin='0px';")
